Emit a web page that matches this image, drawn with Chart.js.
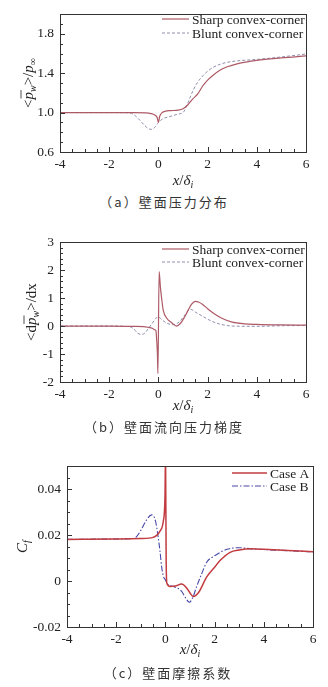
<!DOCTYPE html>
<html>
<head>
<meta charset="utf-8">
<script src="https://cdn.jsdelivr.net/npm/chart.js@4"></script>
<style>
body { margin: 0; background: #fff; width: 328px; height: 687px; position: relative; overflow: hidden; }
canvas { position: absolute; left: 0; }
.cap { position: absolute; left: 0; width: 328px; text-align: center; font: 13px "Noto Sans CJK SC"; color: #333; letter-spacing: 2px; line-height: 18px; }
</style>
</head>
<body>
<canvas id="chartA" width="328" height="190" style="top:0"></canvas>
<div class="cap" style="top:193px;padding-right:6px">（a）壁面压力分布</div>
<canvas id="chartB" width="328" height="190" style="top:228px"></canvas>
<div class="cap" style="top:418px">（b）壁面流向压力梯度</div>
<canvas id="chartC" width="328" height="205" style="top:452px"></canvas>
<div class="cap" style="top:664px;padding-left:4px">（c）壁面摩擦系数</div>
<script>
// x ticks shared by all three panels
const xTicks = [-4, -2, 0, 2, 4, 6];
const xTickLabels = ["-4", "-2", "0", "2", "4", "6"];

// (a) wall pressure
const pSharpX = [-4, -2, -1, -0.5, -0.3, -0.15, -0.05, 0, 0.05, 0.15, 0.3, 0.5, 0.8, 1.0, 1.2, 1.4, 1.6, 1.8, 2.0, 2.2, 2.5, 2.8, 3.2, 4, 5, 6];
const pSharpY = [1.0, 1.0, 1.0, 0.998, 0.99, 0.975, 0.95, 0.9, 0.96, 1.0, 1.015, 1.02, 1.025, 1.04, 1.08, 1.14, 1.19, 1.27, 1.33, 1.375, 1.43, 1.465, 1.495, 1.53, 1.555, 1.575];
const pBluntX = [-4, -2, -1.2, -1.0, -0.8, -0.6, -0.45, -0.3, -0.15, 0, 0.2, 0.4, 0.6, 0.8, 1.0, 1.1, 1.2, 1.3, 1.42, 1.6, 1.83, 2.0, 2.23, 2.5, 2.78, 3.2, 4, 5, 6];
const pBluntY = [1.0, 1.0, 0.998, 0.98, 0.935, 0.88, 0.845, 0.83, 0.85, 0.9, 0.94, 0.955, 0.97, 0.985, 1.0, 1.04, 1.1, 1.16, 1.23, 1.31, 1.38, 1.42, 1.46, 1.49, 1.51, 1.525, 1.54, 1.565, 1.595];
const pTicks = [0.6, 1.0, 1.4, 1.8];
const pTickLabels = ["0.6", "1.0", "1.4", "1.8"];

// (b) streamwise pressure gradient
const gSharpX = [-4, -2, -1, -0.6, -0.4, -0.25, -0.15, -0.1, -0.07, -0.04, -0.02, 0.03, 0.08, 0.13, 0.2, 0.34, 0.54, 0.74, 0.9, 1.05, 1.2, 1.35, 1.5, 1.65, 1.8, 2.0, 2.3, 2.6, 3.0, 3.5, 4, 5, 6];
const gSharpY = [0, 0, -0.01, -0.02, -0.05, -0.08, -0.13, -0.17, -0.5, -1.0, -1.7, 1.95, 1.4, 1.0, 0.55, 0.28, 0.12, 0.0, 0.1, 0.3, 0.55, 0.78, 0.88, 0.85, 0.77, 0.62, 0.42, 0.27, 0.14, 0.08, 0.06, 0.04, 0.03];
const gBluntX = [-4, -2, -1.2, -1.0, -0.85, -0.7, -0.55, -0.4, -0.25, -0.1, 0, 0.15, 0.35, 0.6, 0.85, 1.1, 1.3, 1.5, 1.8, 2.1, 2.5, 3.0, 4, 5, 6];
const gBluntY = [0, 0, -0.02, -0.1, -0.25, -0.3, -0.25, -0.08, 0.1, 0.28, 0.32, 0.22, 0.1, 0.05, 0.15, 0.42, 0.6, 0.5, 0.35, 0.2, 0.07, 0.0, -0.01, 0.01, 0.02];
const gTicks = [-2, -1, 0, 1, 2, 3];
const gTickLabels = ["-2", "-1", "0", "1", "2", "3"];

// (c) skin friction
const fAX = [-4, -2, -1, -0.5, -0.22, -0.085, -0.016, 0.005, 0.03, 0.06, 0.19, 0.4, 0.66, 0.87, 1.0, 1.13, 1.35, 1.68, 2.0, 2.22, 2.63, 3.0, 3.5, 4, 5, 6];
const fAY = [0.0181, 0.0183, 0.0185, 0.019, 0.0217, 0.026, 0.037, 0.056, 0.01, -0.001, -0.0024, -0.0022, -0.0013, -0.0031, -0.0052, -0.0067, -0.005, 0.0018, 0.006, 0.0089, 0.0125, 0.0135, 0.014, 0.0138, 0.0133, 0.0127];
const fBX = [-4, -2, -1.3, -1.2, -1.0, -0.8, -0.56, -0.4, -0.3, -0.22, -0.15, -0.08, 0, 0.1, 0.32, 0.66, 0.8, 0.97, 1.1, 1.27, 1.48, 1.68, 2.0, 2.5, 3.0, 3.5, 4, 5, 6];
const fBY = [0.0181, 0.0183, 0.0185, 0.019, 0.022, 0.026, 0.0288, 0.026, 0.0196, 0.013, 0.006, 0.002, 0.0005, -0.0015, -0.0024, -0.0045, -0.007, -0.0092, -0.0075, -0.0024, 0.0033, 0.0082, 0.011, 0.0138, 0.0145, 0.014, 0.0137, 0.0132, 0.0127];
const fTicks = [-0.02, 0, 0.02, 0.04];
const fTickLabels = ["-0.02", "0", "0.02", "0.04"];

const SERIF = '"Liberation Serif", "DejaVu Serif", serif';

function zip(xs, ys) {
    return xs.map((x, i) => ({ x: x, y: ys[i] }));
}

// draws text made of pieces (italic, subscript, overbar)
function drawRich(ctx, segs, cx, cy, vertical) {
    ctx.save();
    ctx.translate(cx, cy);
    if (vertical) ctx.rotate(-Math.PI / 2);
    ctx.textBaseline = "alphabetic";
    ctx.textAlign = "left";
    const fontOf = s => (s.it ? "italic " : "") + (s.sub ? 10 : 15) + "px " + SERIF;
    let total = 0;
    segs.forEach(s => { ctx.font = fontOf(s); s.w = ctx.measureText(s.t).width; total += s.w; });
    let x = -total / 2;
    ctx.fillStyle = "#222";
    ctx.strokeStyle = "#222";
    segs.forEach(s => {
        ctx.font = fontOf(s);
        ctx.fillText(s.t, x, s.sub ? 8 : 5);
        if (s.bar) {
            ctx.beginPath();
            ctx.lineWidth = 0.8;
            ctx.moveTo(x + 1, -7);
            ctx.lineTo(x + s.w + 2, -7);
            ctx.stroke();
        }
        x += s.w;
    });
    ctx.restore();
}

const xTitle = [{ t: "x", it: 1 }, { t: "/" }, { t: "δ", it: 1 }, { t: "i", it: 1, sub: 1 }];

function makePanel(id, cfg) {
    const frame = {
        id: "frame",
        afterDraw(chart) {
            const ctx = chart.ctx;
            const a = chart.chartArea;
            const xs = chart.scales.x, ys = chart.scales.y;
            ctx.save();
            ctx.strokeStyle = "#333";
            ctx.lineWidth = 1;
            ctx.strokeRect(Math.round(a.left) + 0.5, Math.round(a.top) + 0.5, Math.round(a.right - a.left), Math.round(a.bottom - a.top));
            // inward ticks, minor every 0.5 on x
            ctx.beginPath();
            for (let v = -4; v <= 6.001; v += 0.5) {
                const px = Math.round(xs.getPixelForValue(v)) + 0.5;
                const len = Math.abs(v % 2) < 1e-6 ? 5 : 3;
                ctx.moveTo(px, a.bottom);
                ctx.lineTo(px, a.bottom - len);
            }
            const n = Math.round((cfg.ymax - cfg.ymin) / cfg.minor);
            for (let i = 0; i <= n; i++) {
                const v = cfg.ymin + i * cfg.minor;
                const py = Math.round(ys.getPixelForValue(v)) + 0.5;
                const major = cfg.yTicks.some(t => Math.abs(t - v) < cfg.minor / 10);
                ctx.moveTo(a.left, py);
                ctx.lineTo(a.left + (major ? 5 : 3), py);
            }
            ctx.stroke();
            // legend
            ctx.font = "13.5px " + SERIF;
            ctx.textBaseline = "middle";
            ctx.fillStyle = "#222";
            cfg.legend.forEach((l, i) => {
                const ds = chart.data.datasets[i];
                ctx.beginPath();
                ctx.strokeStyle = ds.borderColor;
                ctx.lineWidth = ds.borderWidth;
                ctx.setLineDash(ds.borderDash || []);
                ctx.moveTo(l.x1, l.y);
                ctx.lineTo(l.x2, l.y);
                ctx.stroke();
                ctx.setLineDash([]);
                ctx.fillText(ds.label, l.x2 + 3, l.y + 1);
            });
            ctx.restore();
            drawRich(ctx, xTitle, (a.left + a.right) / 2, cfg.xTitleY, false);
            drawRich(ctx, cfg.yTitle, cfg.yTitleX, (a.top + a.bottom) / 2, true);
        }
    };

    return new Chart(document.getElementById(id), {
        type: "line",
        data: { datasets: cfg.datasets },
        options: {
            responsive: false,
            animation: false,
            layout: { padding: cfg.padding },
            elements: { point: { radius: 0 }, line: { cubicInterpolationMode: "monotone" } },
            plugins: { legend: { display: false }, tooltip: { enabled: false } },
            scales: {
                x: {
                    type: "linear",
                    min: -4,
                    max: 6,
                    grid: { display: false, drawTicks: false },
                    border: { display: false },
                    afterBuildTicks: s => { s.ticks = xTicks.map(v => ({ value: v })); },
                    afterFit: s => { s.height = cfg.xHeight; },
                    ticks: {
                        padding: 4,
                        maxRotation: 0,
                        color: "#222",
                        font: { family: SERIF, size: 13.5 },
                        callback: (v, i) => xTickLabels[i]
                    }
                },
                y: {
                    type: "linear",
                    min: cfg.ymin,
                    max: cfg.ymax,
                    grid: { display: false, drawTicks: false },
                    border: { display: false },
                    afterBuildTicks: s => { s.ticks = cfg.yTicks.map(v => ({ value: v })); },
                    afterFit: s => { s.width = cfg.yWidth; },
                    ticks: {
                        padding: 6,
                        color: "#222",
                        font: { family: SERIF, size: 13.5 },
                        callback: (v, i) => cfg.yTickLabels[i]
                    }
                }
            }
        },
        plugins: [frame]
    });
}

makePanel("chartA", {
    datasets: [
        { label: "Sharp convex-corner", data: zip(pSharpX, pSharpY), borderColor: "#ad5a66", borderWidth: 1.2, fill: false },
        { label: "Blunt convex-corner", data: zip(pBluntX, pBluntY), borderColor: "#8e8eb0", borderWidth: 1, borderDash: [3, 2], fill: false }
    ],
    ymin: 0.6, ymax: 2.0, minor: 0.1,
    yTicks: pTicks, yTickLabels: pTickLabels,
    padding: { top: 8, right: 22, left: 0, bottom: 0 },
    xHeight: 38, yWidth: 60,
    legend: [{ x1: 162, x2: 189, y: 19 }, { x1: 162, x2: 189, y: 33 }],
    xTitleY: 180, yTitleX: 28,
    yTitle: [{ t: "<" }, { t: "p", it: 1, bar: 1 }, { t: "w", it: 1, sub: 1 }, { t: ">" }, { t: "/" }, { t: "p", it: 1 }, { t: "∞", sub: 1 }]
});

makePanel("chartB", {
    datasets: [
        { label: "Sharp convex-corner", data: zip(gSharpX, gSharpY), borderColor: "#ad5a66", borderWidth: 1.2, fill: false },
        { label: "Blunt convex-corner", data: zip(gBluntX, gBluntY), borderColor: "#8e8eb0", borderWidth: 1, borderDash: [3, 2], fill: false }
    ],
    ymin: -2, ymax: 3, minor: 0.2,
    yTicks: gTicks, yTickLabels: gTickLabels,
    padding: { top: 12, right: 22, left: 0, bottom: 0 },
    xHeight: 36, yWidth: 60,
    legend: [{ x1: 162, x2: 189, y: 21 }, { x1: 162, x2: 189, y: 34 }],
    xTitleY: 177, yTitleX: 31,
    yTitle: [{ t: "<" }, { t: "d" }, { t: "p", it: 1, bar: 1 }, { t: "w", it: 1, sub: 1 }, { t: ">" }, { t: "/" }, { t: "d" }, { t: "x" }]
});

makePanel("chartC", {
    datasets: [
        { label: "Case A", data: zip(fAX, fAY), borderColor: "#c23c40", borderWidth: 1.5, fill: false },
        { label: "Case B", data: zip(fBX, fBY), borderColor: "#4848a8", borderWidth: 1.1, borderDash: [6, 2, 1.5, 2], fill: false }
    ],
    ymin: -0.02, ymax: 0.05, minor: 0.005,
    yTicks: fTicks, yTickLabels: fTickLabels,
    padding: { top: 11, right: 15, left: 0, bottom: 0 },
    xHeight: 30, yWidth: 67,
    legend: [{ x1: 232, x2: 267, y: 21 }, { x1: 232, x2: 267, y: 34 }],
    xTitleY: 197, yTitleX: 22,
    yTitle: [{ t: "C", it: 1 }, { t: "f", it: 1, sub: 1 }]
});
</script>
</body>
</html>
